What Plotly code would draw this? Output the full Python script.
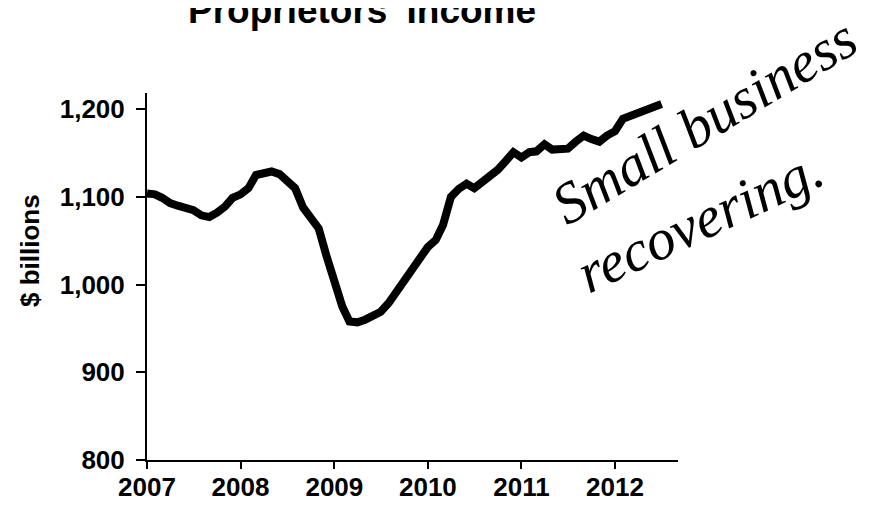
import plotly.graph_objects as go
import pandas as pd

# Monthly proprietors' income, $ billions (Jan 2007 .. Jul 2012)
months = pd.date_range("2007-01-01", periods=67, freq="MS").strftime("%Y-%m-%d").tolist()
income = [
    1104, 1103, 1099, 1093, 1090, 1088, 1085, 1079, 1077, 1082, 1089, 1099,   # 2007
    1103, 1110, 1125, 1127, 1129, 1126, 1119, 1110, 1088, 1077, 1064, 1033,   # 2008
    1001, 975, 958, 957, 960, 964, 969, 979, 992, 1005, 1019, 1032,           # 2009
    1043, 1051, 1068, 1100, 1109, 1115, 1110, 1117, 1124, 1131, 1141, 1151,   # 2010
    1145, 1151, 1152, 1160, 1154, 1155, 1155, 1163, 1170, 1166, 1163, 1170,   # 2011
    1175, 1189, 1192, 1195, 1200, 1201, 1206,                                 # 2012
]
year_ticks = ["2007-01-01", "2008-01-01", "2009-01-01", "2010-01-01", "2011-01-01", "2012-01-01"]
year_labels = ["2007", "2008", "2009", "2010", "2011", "2012"]
y_ticks = [800, 900, 1000, 1100, 1200]

title_text = "Proprietors' Income"
y_title = "$ billions"
note_line1 = "Small business"
note_line2 = "recovering."

# the page body adds an 8px offset; layout coordinates are screen coordinates minus 8
OFF = 8
W, H = 886 - OFF, 505 - OFF
L, R, T, B = 147 - OFF, 678 - OFF, 93 - OFF, 460 - OFF

def px_x(p):  # p in screen pixels
    return (p - OFF - L) / (R - L)

def px_y(p):
    return (B - (p - OFF)) / (B - T)

FONT = "Liberation Sans, Arial, sans-serif"
HAND = "Liberation Serif, serif"

fig = go.Figure()
fig.add_trace(go.Scatter(
    x=months, y=income, mode="lines",
    line=dict(color="black", width=8, shape="linear"),
    showlegend=False, hoverinfo="skip",
))

fig.update_layout(
    width=W, height=H,
    margin=dict(l=L, r=W - R, t=T, b=H - B, pad=0, autoexpand=False),
    paper_bgcolor="white", plot_bgcolor="white",
    font=dict(family=FONT, color="black"),
    xaxis=dict(
        type="date", automargin=False,
        range=["2007-01-01", "2012-09-03"],
        tickvals=year_ticks, ticktext=year_labels,
        showgrid=False, zeroline=False,
        showline=True, linecolor="black", linewidth=2,
        ticks="outside", ticklen=7, tickwidth=2, tickcolor="black",
        tickfont=dict(family=FONT, size=26, weight="bold", color="black"),
        ticklabelstandoff=-4,
    ),
    yaxis=dict(
        automargin=False,
        range=[800, 1218.5],
        tickvals=y_ticks, tickformat=",d",
        showgrid=False, zeroline=False,
        showline=True, linecolor="black", linewidth=2,
        ticks="outside", ticklen=9, tickwidth=2, tickcolor="black",
        tickfont=dict(family=FONT, size=26, weight="bold", color="black"),
        ticklabelstandoff=6,
    ),
)

fig.add_annotation(
    text=y_title, xref="paper", yref="paper",
    x=px_x(30), y=px_y(251), xanchor="center", yanchor="middle",
    showarrow=False, textangle=-90,
    font=dict(family=FONT, size=26, weight="bold", color="black"),
)

fig.add_annotation(
    text=title_text, xref="paper", yref="paper",
    x=px_x(362), y=px_y(10), xanchor="center", yanchor="middle",
    showarrow=False,
    font=dict(family=FONT, size=37, weight="bold", color="black"),
)

fig.add_annotation(
    text=note_line1, xref="paper", yref="paper",
    x=px_x(704), y=px_y(122), xanchor="center", yanchor="middle",
    showarrow=False, textangle=-31,
    font=dict(family=HAND, size=58, style="italic", color="black"),
)
fig.add_annotation(
    text=note_line2, xref="paper", yref="paper",
    x=px_x(700), y=px_y(220), xanchor="center", yanchor="middle",
    showarrow=False, textangle=-25,
    font=dict(family=HAND, size=58, style="italic", color="black"),
)

fig.write_html("out.html")
